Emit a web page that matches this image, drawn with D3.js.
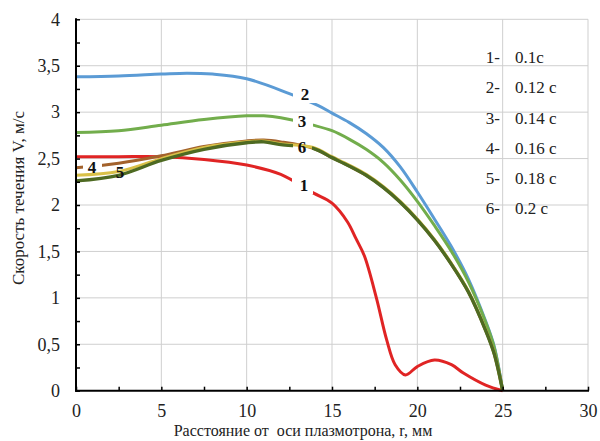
<!DOCTYPE html>
<html><head><meta charset="utf-8">
<script src="https://cdn.jsdelivr.net/npm/d3@7"></script>
<style>
body{margin:0;background:#fff;}
svg{display:block;}
svg text{font-family:"Liberation Serif","Times New Roman",Times,"DejaVu Serif","Noto Serif",serif;}
</style></head><body>
<svg id="chart" width="600" height="441"></svg>
<script>
// ---- data ----
const seriesNames = ["1","2","3","4","5","6"];
const legendKeys = ["1-","2-","3-","4-","5-","6-"];
const legendTimes = ["0.1c","0.12 c","0.14 c","0.16 c","0.18 c","0.2 c"];
const xTickLabels = [0,5,10,15,20,25,30];
const yTickLabels = ["0","0,5","1","1,5","2","2,5","3","3,5","4"];

const x1 = [0,2.5,5,7.5,10,12,13.9,15,15.9,16.4,16.9,17.6,18.2,18.7,19.3,20,21,22,22.7,24,25];
const v1 = [2.52,2.52,2.52,2.49,2.43,2.33,2.13,2.02,1.82,1.64,1.45,1.0,0.55,0.28,0.17,0.26,0.33,0.28,0.19,0.06,0];

const x2 = [0,2.5,5,6.5,8,10,12.5,14.2,15,16,17,18,19,20,21,22,23,24,24.5,25];
const v2 = [3.38,3.39,3.41,3.42,3.41,3.36,3.2,3.07,2.99,2.89,2.77,2.62,2.41,2.14,1.85,1.55,1.2,0.75,0.48,0];

const x3 = [0,2.5,5,7.5,10,11,12,13.9,15,16,17,18,19,20,21,22,23,24,24.5,25];
const v3 = [2.78,2.8,2.86,2.92,2.96,2.96,2.94,2.86,2.8,2.71,2.60,2.46,2.27,2.04,1.78,1.5,1.17,0.74,0.47,0];

const x4 = [0,2.5,5,7.5,10,11,12,13.9,15,16,17,18,19,20,21,22,23,24,24.5,25];
const v4 = [2.40,2.45,2.53,2.63,2.69,2.70,2.68,2.61,2.51,2.42,2.32,2.19,2.03,1.84,1.62,1.36,1.06,0.65,0.4,0];

const x5 = [0,2.5,5,7.5,10,11,12,13.9,15,16,17,18,19,20,21,22,23,24,24.5,25];
const v5 = [2.32,2.36,2.50,2.62,2.68,2.69,2.66,2.62,2.52,2.43,2.33,2.20,2.04,1.85,1.63,1.37,1.07,0.66,0.41,0];

const x6 = [0,2.5,5,7.5,10,11,12,13.9,15,16,17,18,19,20,21,22,23,24,24.5,25];
const v6 = [2.26,2.32,2.48,2.6,2.67,2.68,2.65,2.61,2.51,2.42,2.32,2.19,2.03,1.84,1.62,1.36,1.06,0.65,0.4,0];

const seriesX = [x1,x2,x3,x4,x5,x6];
const seriesV = [v1,v2,v3,v4,v5,v6];
const colors = ["#e02424","#5b9bd5","#72ad4c","#a3622c","#d9c148","#4e6a22"];
const widths = [3,3,3,3,3,3.4];

// ---- layout ----
const svg = d3.select("#chart");
const L = 76, R = 588, T = 19.3, B = 390.7;
const x = d3.scaleLinear().domain([0,30]).range([L,R]);
const y = d3.scaleLinear().domain([0,4]).range([B,T]);

// gridlines
const grid = svg.append("g").attr("stroke","#cfcfcf").attr("stroke-width",1);
grid.selectAll("line.h").data(d3.range(0.5,4.01,0.5)).enter().append("line")
  .attr("x1",L).attr("x2",R).attr("y1",d=>y(d)).attr("y2",d=>y(d));
grid.selectAll("line.v").data(d3.range(5,30.01,5)).enter().append("line")
  .attr("y1",T).attr("y2",B).attr("x1",d=>x(d)).attr("x2",d=>x(d));

// masks for gaps around labels
const defs = svg.append("defs");
const curveLabels = [
  {s:0, t:"1", cx:304, cy:185, gap:[292,313]},
  {s:1, t:"2", cx:305, cy:94, gap:[293,318]},
  {s:2, t:"3", cx:302, cy:121, gap:[293,313]},
  {s:3, t:"4", cx:92, cy:167, gap:[83,102]},
  {s:5, t:"6", cx:302, cy:147, gap:[293,312]}
];
seriesNames.forEach((n,i)=>{
  const m = defs.append("mask").attr("id","m"+i).attr("maskUnits","userSpaceOnUse")
    .attr("x",0).attr("y",0).attr("width",600).attr("height",441);
  m.append("rect").attr("x",0).attr("y",0).attr("width",600).attr("height",441).attr("fill","#fff");
  curveLabels.filter(c=>c.s===i).forEach(c=>{
    m.append("rect").attr("x",c.gap[0]).attr("y",c.cy-9).attr("width",c.gap[1]-c.gap[0]).attr("height",18).attr("fill","#000");
  });
});

// lines
const line = d3.line().x(d=>x(d[0])).y(d=>y(d[1])).curve(d3.curveCatmullRom.alpha(0.5));
seriesNames.forEach((n,i)=>{
  const pts = seriesX[i].map((xv,j)=>[xv,seriesV[i][j]]);
  svg.append("path").attr("d",line(pts)).attr("fill","none")
    .attr("stroke",colors[i]).attr("stroke-width",widths[i])
    .attr("stroke-linecap","butt").attr("mask","url(#m"+i+")");
});

// axes
const yAxis = d3.axisLeft(y).tickValues(d3.range(0,4.01,0.25))
  .tickSizeInner(-4).tickSizeOuter(0).tickPadding(16)
  .tickFormat(d=> (Math.abs(d*2-Math.round(d*2))<1e-6) ? yTickLabels[Math.round(d*2)] : "");
const gy = svg.append("g").attr("transform",`translate(${L},0)`).call(yAxis);
const xAxis = d3.axisBottom(x).tickValues(d3.range(0,30.01,2.5))
  .tickSizeInner(-4).tickSizeOuter(0).tickPadding(14)
  .tickFormat(d=> (d%5===0) ? String(xTickLabels[d/5]) : "");
const gx = svg.append("g").attr("transform",`translate(0,${B})`).call(xAxis);
[gy,gx].forEach(g=>{
  g.attr("font-family",null);
  g.select(".domain").attr("stroke","#000").attr("stroke-width",2);
  g.selectAll(".tick line").attr("stroke","#000").attr("stroke-width",1.5);
  g.selectAll(".tick text").attr("font-size",18).attr("fill","#222");
});
gy.select(".domain").attr("d",`M0,${B+1}V${T-1}`);
gx.select(".domain").attr("d",`M${L-1},0H${R+1}`);

// axis titles
svg.append("text").attr("transform",`translate(24,198) rotate(-90)`)
  .attr("text-anchor","middle").attr("font-size",17).attr("fill","#222")
  .text("Скорость течения V, м/с");
svg.append("text").attr("x",303).attr("y",436)
  .attr("text-anchor","middle").attr("font-size",16).attr("fill","#222")
  .style("white-space","pre")
  .text("Расстояние от  оси плазмотрона, r, мм");

// curve labels
curveLabels.forEach(c=>{
  svg.append("text").attr("x",c.cx).attr("y",c.cy).attr("dy","0.35em")
    .attr("text-anchor","middle").attr("font-size",17).attr("font-weight","bold")
    .attr("fill","#111").text(c.t);
});
svg.append("text").attr("x",120).attr("y",172).attr("dy","0.35em")
  .attr("text-anchor","middle").attr("font-size",17).attr("font-weight","bold")
  .attr("fill","#111").text("5");

// legend text
legendKeys.forEach((k,i)=>{
  const cy = 57 + i*30.3;
  svg.append("text").attr("x",500).attr("y",cy).attr("dy","0.35em")
    .attr("text-anchor","end").attr("font-size",17).attr("fill","#222").text(k);
  svg.append("text").attr("x",515).attr("y",cy).attr("dy","0.35em")
    .attr("font-size",17).attr("fill","#222").text(legendTimes[i]);
});
</script>
</body></html>
